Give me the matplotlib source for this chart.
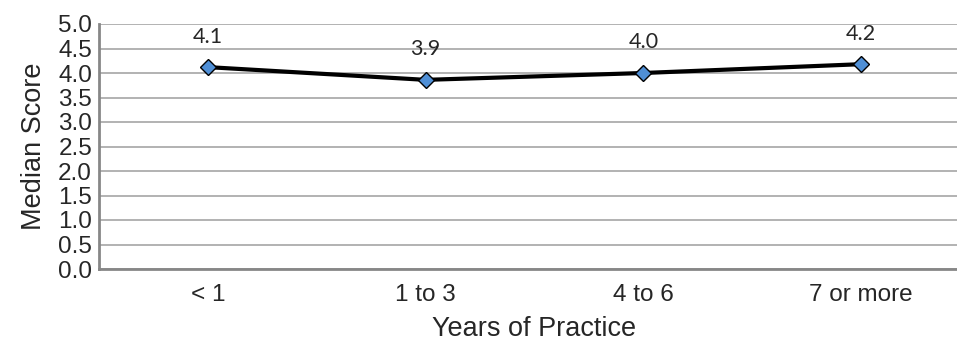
import matplotlib.pyplot as plt
import numpy as np

# data
categories = ['< 1', '1 to 3', '4 to 6', '7 or more']
median_scores = [4.12, 3.86, 4.0, 4.18]
y_ticks = [0.0, 0.5, 1.0, 1.5, 2.0, 2.5, 3.0, 3.5, 4.0, 4.5, 5.0]

text_color = '#262626'

fig = plt.figure(figsize=(9.57, 3.43), dpi=100)
# the right edge of the plot area is cut off in the reference
ax = fig.add_axes([99 / 957, 74 / 343, 871 / 957, 245 / 343])

x = np.arange(len(categories))
ax.plot(x, median_scores, color='black', linewidth=3.0, zorder=3,
        marker='D', markersize=8.5, markerfacecolor='#4f8fd6',
        markeredgecolor='black', markeredgewidth=1.0)

for xi, v in zip(x, median_scores):
    ax.annotate(f'{v:.1f}', (xi, v), xytext=(0, 22), textcoords='offset points',
                ha='center', va='center', fontsize=15.5, family='Lato',
                color=text_color)

ax.set_xlim(-0.5, len(categories) - 0.5)
ax.set_ylim(0, 5.0)
ax.set_yticks(y_ticks)
ax.set_yticklabels([f'{t:.1f}' for t in y_ticks])
ax.set_xticks(x)
ax.set_xticklabels(categories)

ax.grid(axis='y', color='#a6a6a6', linewidth=1.2)
ax.set_axisbelow(True)
ax.tick_params(length=0, labelsize=17.5, labelcolor=text_color, pad=5)
ax.tick_params(axis='x', pad=11)
for lab in ax.get_xticklabels() + ax.get_yticklabels():
    lab.set_family('Liberation Sans')

for side in ['top', 'right']:
    ax.spines[side].set_visible(False)
for side in ['left', 'bottom']:
    ax.spines[side].set_color('#878787')
    ax.spines[side].set_linewidth(2.0)

ax.set_ylabel('Median Score', fontsize=19.5, family='Liberation Sans',
              color=text_color, labelpad=8)
ax.set_xlabel('Years of Practice', fontsize=19.5, family='Liberation Sans',
              color=text_color, labelpad=7)

fig.savefig('out.png', dpi=100)
